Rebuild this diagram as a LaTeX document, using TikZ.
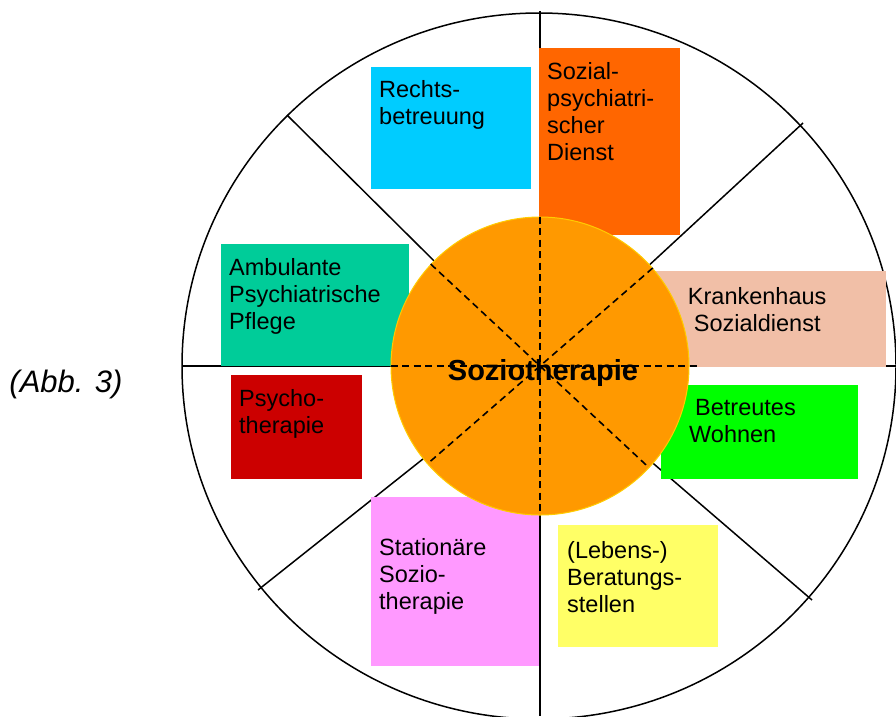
\documentclass[tikz,border=0pt]{standalone}
\usepackage{fontspec}
\setmainfont{Liberation Sans}
\usetikzlibrary{positioning}

\definecolor{rbcyan}{HTML}{00CCFF}
\definecolor{spdorange}{HTML}{FF6600}
\definecolor{khpeach}{HTML}{F1BFA7}
\definecolor{bwgreen}{HTML}{00FF00}
\definecolor{lbyellow}{HTML}{FFFF66}
\definecolor{szpink}{HTML}{FF99FF}
\definecolor{ptred}{HTML}{CC0000}
\definecolor{apteal}{HTML}{00CC99}
\definecolor{storange}{HTML}{FF9900}
\definecolor{stgold}{HTML}{FFCC00}

\begin{document}
\begin{tikzpicture}[x=1pt,y=-1pt,
    box/.style={anchor=north west, inner sep=0pt},
    lbl/.style={inner sep=0pt, align=left, font=\fontsize{23.5}{27}\selectfont},
    spoke/.style={line width=1.5pt},
    cut/.style={line width=1.6pt, dash pattern=on 7pt off 4.5pt}]
   \useasboundingbox (0,0) rectangle (896,716);

   % wheel
   \coordinate (c)  at (540,366);
   \coordinate (n)  at (540,11);
   \coordinate (s)  at (540,716);
   \coordinate (w)  at (182,366);
   \coordinate (e)  at (896,366);
   \coordinate (ul) at (287,115);
   \coordinate (ur) at (803,123);
   \coordinate (ll) at (258,590);
   \coordinate (lr) at (812,600);
   \draw[spoke] (539,366) ellipse [x radius=357pt, y radius=353pt];
   \path[spoke]
    (c) edge (n) edge (s) edge (w) edge (e)
        edge (ul) edge (ur) edge (ll) edge (lr);

   % boxes
   \node[box, fill=rbcyan,    minimum width=160pt, minimum height=122pt] (rb)  at (371,67)  {};
   \node[box, fill=spdorange, minimum width=141pt, minimum height=187pt] (spd) at (539,48)  {};
   \node[box, fill=khpeach,   minimum width=258pt, minimum height=96pt]  (kh)  at (628,271) {};
   \node[box, fill=bwgreen,   minimum width=197pt, minimum height=94pt]  (bw)  at (661,385) {};
   \node[box, fill=lbyellow,  minimum width=160pt, minimum height=122pt] (lb)  at (558,525) {};
   \node[box, fill=szpink,    minimum width=168pt, minimum height=169pt] (sz)  at (371,497) {};
   \node[box, fill=ptred,     minimum width=131pt, minimum height=104pt] (pt)  at (231,375) {};
   \node[box, fill=apteal,    minimum width=188pt, minimum height=122pt] (ap)  at (221,244) {};

   % centre
   \node[circle, fill=storange, draw=stgold, line width=1pt, minimum size=298pt, inner sep=0pt] (st) at (c) {};
   \coordinate (hd) at (700,366);
   \draw[cut] (st.north) -- (st.south);
   \draw[cut] (st.west) -- (hd);
   \draw[cut] (st.137) -- (st.-43);
   \draw[cut] (st.41) -- (st.221);

   % labels
   \node[lbl, below right=13pt and 8pt of rb.north west]  (rbt)  {Rechts-\\betreuung};
   \node[lbl, below right=14pt and 8pt of spd.north west] (spdt) {Sozial-\\psychiatri-\\scher\\Dienst};
   \node[lbl, align=center, below=16pt of kh.north]       (kht)  {Krankenhaus\\Sozialdienst};
   \node[lbl, below right=14pt and 28pt of bw.north west] (bwt)  {\hspace*{6pt}Betreutes\\Wohnen};
   \node[lbl, below right=16pt and 9pt of lb.north west]  (lbt)  {(Lebens-)\\Beratungs-\\stellen};
   \node[lbl, below right=41pt and 8pt of sz.north west]  (szt)  {Stationäre\\Sozio-\\therapie};
   \node[lbl, below right=14pt and 8pt of pt.north west]  (ptt)  {Psycho-\\therapie};
   \node[lbl, below right=14pt and 8pt of ap.north west]  (apt)  {Ambulante\\Psychiatrische\\Pflege};
   \node[anchor=base, inner sep=0pt, font=\bfseries\fontsize{29}{34}\selectfont] (stt) at (543,380) {Soziotherapie};
   \node[anchor=base, inner sep=0pt, font=\itshape\fontsize{31}{36}\selectfont] (abb) at (66,392) {(Abb. 3)};
\end{tikzpicture}
\end{document}
